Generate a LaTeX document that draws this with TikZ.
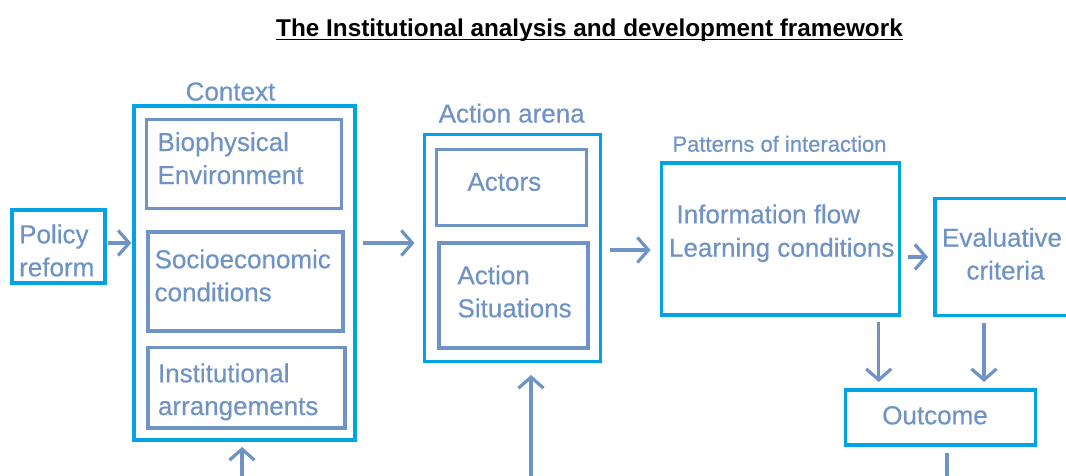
\documentclass[tikz,border=0pt]{standalone}
\usepackage{fontspec}
\setmainfont{Liberation Sans}
\newfontfamily\lblfont[FakeBold=0.4]{Liberation Sans}
\usetikzlibrary{arrows.meta}
\definecolor{cyanb}{RGB}{0,163,228}
\definecolor{steel}{RGB}{112,147,197}
\begin{document}
\begin{tikzpicture}[x=1pt,y=-1pt,
  obox/.style={draw=cyanb, line width=3.5pt, outer sep=0pt, inner sep=0pt},
  ibox/.style={draw=steel, line width=3.2pt, outer sep=0pt, inner sep=0pt},
  lbl/.style={text=steel, inner sep=0pt, outer sep=0pt, font=\lblfont\fontsize{26}{30}\selectfont, anchor=base west},
  clbl/.style={lbl, anchor=base},
  arr/.style={draw=steel, line width=3.2pt, -{Straight Barb[length=11pt,width=25pt]}},
  ln/.style={draw=steel, line width=3.2pt}]
\useasboundingbox[fill=white] (0,0) rectangle (1066,475);

% title
\node[anchor=base, inner sep=0pt, font=\fontsize{24.3}{28}\selectfont\bfseries] (title) at (589.5,36) {The Institutional analysis and development framework};
\draw[line width=1.5pt] (title.west |- 0,39.5) -- (title.east |- 0,39.5);

% boxes
\node[obox, minimum width=93pt, minimum height=73pt] (policy) at (58.5,246.5) {};
\node[obox, minimum width=221pt, minimum height=334pt] (ctx) at (244.3,273) {};
\node[ibox, minimum width=195pt, minimum height=89pt] (bio) at (244.1,164) {};
\node[ibox, minimum width=195pt, minimum height=99pt] (socio) at (245.4,281.5) {};
\node[ibox, minimum width=197pt, minimum height=80.5pt] (inst) at (246.4,387.8) {};
\node[obox, minimum width=176pt, minimum height=227pt] (arena) at (512.5,248) {};
\node[ibox, minimum width=150pt, minimum height=76pt] (actors) at (511.4,187.7) {};
\node[ibox, minimum width=149pt, minimum height=105pt] (situ) at (513.5,295.5) {};
\node[obox, minimum width=238pt, minimum height=152pt] (info) at (780.5,239) {};
\node[obox, minimum width=145pt, minimum height=117pt] (eval) at (1007.5,257) {};
\node[obox, minimum width=190pt, minimum height=55pt] (outcome) at (940.5,417.5) {};

% texts
\node[clbl] (tctx) at (230.5,100.5) {Context};
\node[lbl] (tpol1) at (19.2,243.3) {Policy};
\node[lbl] (tpol2) at (19.2,276.3) {reform};
\node[lbl] (tbio1) at (157.5,151) {Biophysical};
\node[lbl] (tbio2) at (157.5,184) {Environment};
\node[lbl] (tsoc1) at (154.6,268.3) {Socioeconomic};
\node[lbl] (tsoc2) at (154.6,301.3) {conditions};
\node[lbl] (tins1) at (158,382.3) {Institutional};
\node[lbl] (tins2) at (158,415) {arrangements};
\node[clbl] (tarena) at (511.7,122.5) {Action arena};
\node[lbl] (tact) at (467.5,190.7) {Actors};
\node[lbl] (tsit1) at (457.5,284.3) {Action};
\node[lbl] (tsit2) at (457.5,317.3) {Situations};
\node[clbl, font=\lblfont\fontsize{22}{26}\selectfont] (tpat) at (779.5,151.7) {Patterns of interaction};
\node[lbl] (tinf1) at (676.5,223.3) {Information flow};
\node[lbl] (tinf2) at (669,256.7) {Learning conditions};
\node[lbl] (teval1) at (942,246.7) {Evaluative};
\node[clbl] (teval2) at (1005.5,279.5) {criteria};
\node[clbl] (tout) at (935,424.3) {Outcome};

% free ends at the bottom
\coordinate (bctx) at (242,480);
\coordinate (barena) at (531,480);
\coordinate (bout) at (947,480);

% connectors
\draw[arr, shorten <=3pt, shorten >=2.5pt] (policy.east |- 0,243) -- (ctx.west |- 0,243);
\draw[arr, shorten <=8pt, shorten >=10pt] (ctx.east |- 0,243) -- (arena.west |- 0,243);
\draw[arr, shorten <=9.5pt, shorten >=11pt] (arena.east |- 0,250) -- (info.west |- 0,250);
\draw[arr, shorten <=8pt, shorten >=7pt] (info.east |- 0,257) -- (eval.west |- 0,257);
\draw[arr, shorten <=7pt, shorten >=8pt] (info.south -| 878.7,0) -- (outcome.north -| 878.7,0);
\draw[arr, shorten <=7pt, shorten >=8pt] (eval.south -| 984,0) -- (outcome.north -| 984,0);
\draw[arr, shorten >=7pt] (bctx) -- (ctx.south -| bctx);
\draw[arr, shorten >=13.5pt] (barena) -- (arena.south -| barena);
\draw[ln, shorten <=8pt] (outcome.south -| bout) -- (bout);
\end{tikzpicture}
\end{document}
